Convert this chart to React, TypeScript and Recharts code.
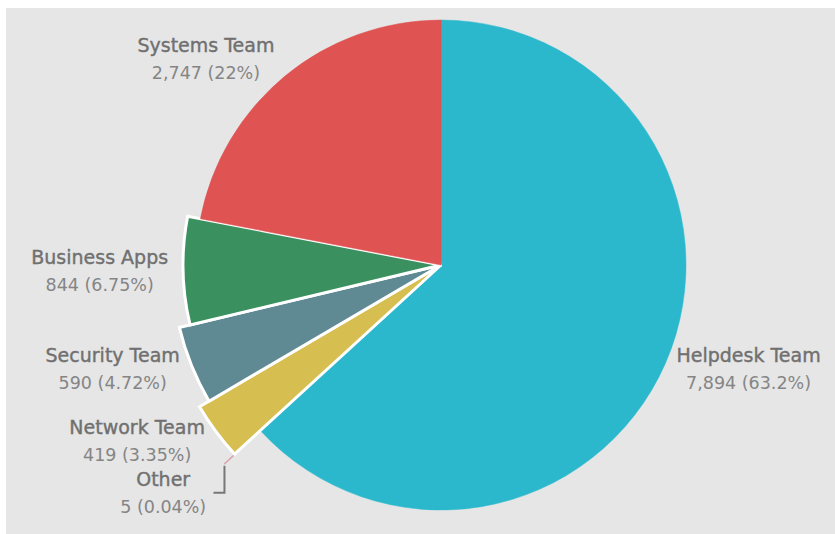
import React from 'react';
import { PieChart, Pie, Cell } from 'recharts';

const teams = ['Helpdesk Team', 'Other', 'Network Team', 'Security Team', 'Business Apps', 'Systems Team'];
const tickets = [7894, 5, 419, 590, 844, 2747];

// styling per slice (same order as teams)
const colors = ['#2bb8cc', '#d8a3b0', '#d6be50', '#5f8a94', '#3a915f', '#e05353'];
const radii = [245, 294, 280, 269, 258, 245];
const labelGap = [14, 0, 17, 9, 13, 22];

const total = tickets.reduce((a, b) => a + b, 0);
const data = teams.map((name, i) => ({ name, value: tickets[i] }));

const RAD = Math.PI / 180;
const FONT = '"DejaVu Sans", sans-serif';
const NAME_FS = 19;
const VAL_FS = 17.5;

const fmtPct = (v: number) => `${Number(((v / total) * 100).toPrecision(3))}%`;

const LabelBlock = ({ x, y, name, valueText }: any) => (
  <g>
    <text x={x} y={y - 14} textAnchor="middle" dominantBaseline="central" fill="#707070" stroke="#707070" strokeWidth={0.4} fontFamily={FONT} fontSize={NAME_FS}>{name}</text>
    <text x={x} y={y + 14} textAnchor="middle" dominantBaseline="central" fill="#858585" fontFamily={FONT} fontSize={VAL_FS}>{valueText}</text>
  </g>
);

const renderLabel = (props: any, own: number) => {
  const { cx, cy, midAngle, outerRadius, index } = props;
  if (index !== own) return null;
  const name = teams[index];
  const valueText = `${tickets[index].toLocaleString('en-US')} (${fmtPct(tickets[index])})`;
  const cos = Math.cos(-midAngle * RAD);
  const sin = Math.sin(-midAngle * RAD);
  const w = Math.max(name.length * 0.57 * NAME_FS, valueText.length * 0.6 * VAL_FS);

  if (name === 'Other') {
    const px = cx + outerRadius * cos;
    const py = cy + outerRadius * sin;
    const ly = py + 29;
    return (
      <g>
        <path d={`M${px},${py + 2}L${px},${ly}L${px - 11},${ly}`} stroke="#777" strokeWidth={2} fill="none" />
        <LabelBlock x={px - 14 - w / 2} y={ly} name={name} valueText={valueText} />
      </g>
    );
  }

  const r = outerRadius + labelGap[index];
  const ax = cx + r * cos;
  const ay = cy + r * sin;
  const mx = ax >= cx ? ax + w / 2 : ax - w / 2;
  return <LabelBlock x={mx} y={ay} name={name} valueText={valueText} />;
};

export default function App() {
  return (
    <div style={{ position: 'fixed', left: 6, top: 8, right: 0, bottom: 0, background: '#e6e6e6' }}>
      <PieChart width={829} height={526}>
        {teams.map((team, own) => (
          <Pie
            key={team}
            data={data}
            dataKey="value"
            nameKey="name"
            cx={430}
            cy={252}
            innerRadius={0}
            outerRadius={radii[own]}
            startAngle={90}
            endAngle={-270}
            labelLine={false}
            label={(p: any) => renderLabel(p, own)}
            isAnimationActive={false}
          >
            {data.map((d, i) => {
              const show = i === own;
              const isOther = d.name === 'Other';
              const exploded = radii[i] !== 245;
              return (
                <Cell
                  key={d.name}
                  fill={show ? colors[i] : 'none'}
                  stroke={show ? (isOther ? colors[i] : exploded ? '#ffffff' : colors[i]) : 'none'}
                  strokeWidth={show ? (isOther ? 1 : exploded ? 3 : 0.5) : 0}
                />
              );
            })}
          </Pie>
        ))}
      </PieChart>
    </div>
  );
}
